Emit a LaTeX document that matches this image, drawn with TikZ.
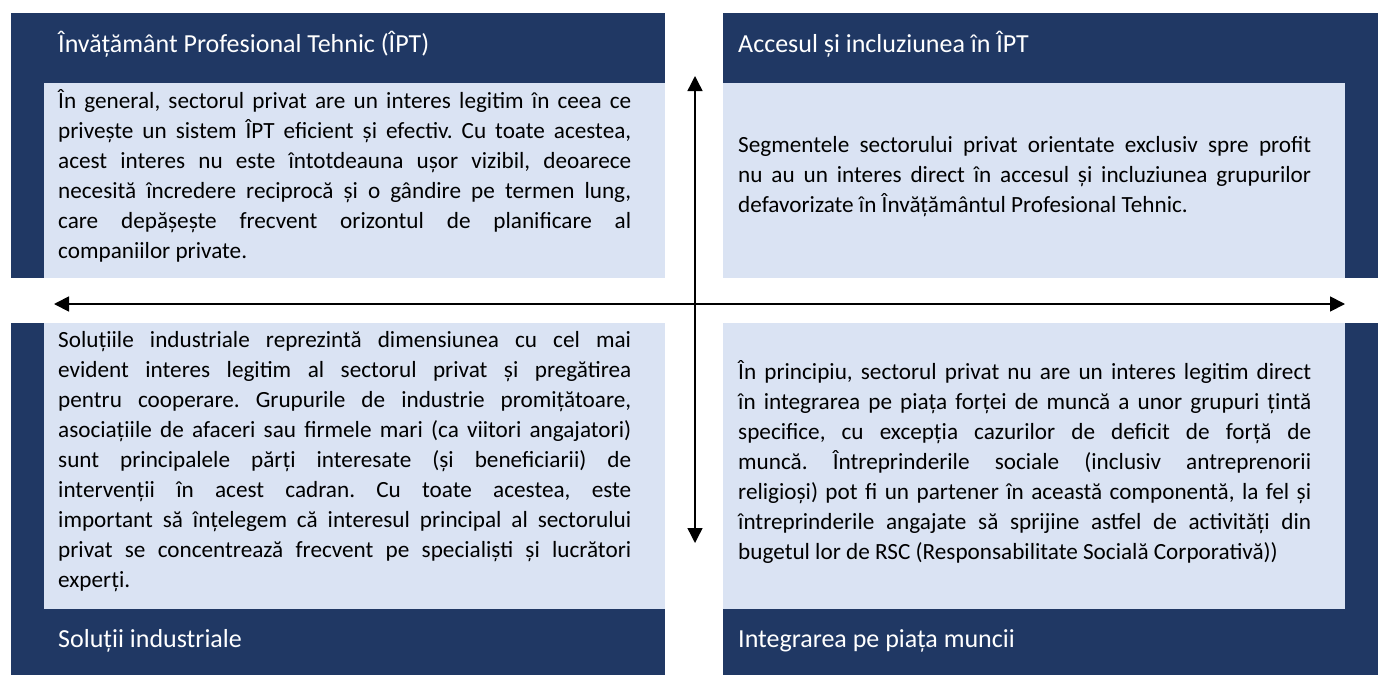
\documentclass[tikz,border=0pt]{standalone}
\usepackage{fontspec}
\setmainfont{Carlito}
\usepackage{tikz}
\usetikzlibrary{arrows.meta,positioning}
\definecolor{navyblue}{HTML}{203864}
\definecolor{paleblue}{HTML}{DAE3F3}
\frenchspacing
\hyphenpenalty=10000
\tolerance=10000

\begin{document}
\begin{tikzpicture}[x=1pt,y=-1pt,
  darkbox/.style={fill=navyblue,inner sep=0pt,anchor=north west},
  lightbox/.style={fill=paleblue,inner sep=0pt,anchor=north west},
  head/.style={text=white,anchor=west,inner sep=0pt,font=\fontsize{26}{30}\selectfont},
  body/.style={anchor=west,inner sep=0pt,text width=573pt,align=justify,font=\fontsize{23.2}{30}\selectfont},
  axis/.style={line width=1.8pt,{Triangle[length=15pt,width=15pt]}-{Triangle[length=15pt,width=15pt]}}]
\useasboundingbox (0,0) rectangle (1378,675);
% quadrant boxes
\node[darkbox,minimum width=654pt,minimum height=265pt] (darkTL) at (11,13) {};
\node[lightbox,minimum width=621pt,minimum height=195pt] (lightTL) at (44,83) {};
\node[darkbox,minimum width=655pt,minimum height=265pt] (darkTR) at (723,13) {};
\node[lightbox,minimum width=622pt,minimum height=195pt] (lightTR) at (723,83) {};
\node[darkbox,minimum width=654pt,minimum height=352pt] (darkBL) at (11,323) {};
\node[lightbox,minimum width=621pt,minimum height=286pt] (lightBL) at (44,323) {};
\node[darkbox,minimum width=655pt,minimum height=352pt] (darkBR) at (723,323) {};
\node[lightbox,minimum width=622pt,minimum height=286pt] (lightBR) at (723,323) {};
% titles
\node[head] (titleTL) at (58,44) {Învățământ Profesional Tehnic (ÎPT)};
\node[head] (titleTR) at (738,44) {Accesul și incluziunea în ÎPT};
\node[head] (titleBL) at (58,641) {Soluții industriale};
\node[head] (titleBR) at (738,641) {Integrarea pe piața muncii};
% texts
\node[body] (textTL) at (58,176) {În general, sectorul privat are un interes legitim în ceea ce\linebreak
privește un sistem ÎPT eficient și efectiv. Cu toate acestea,\linebreak
acest interes nu este întotdeauna ușor vizibil, deoarece\linebreak
necesită încredere reciprocă și o gândire pe termen lung,\linebreak
care depășește frecvent orizontul de planificare al\linebreak
companiilor private.};
\node[body] (textTR) at (738,177) {Segmentele sectorului privat orientate exclusiv spre profit\linebreak
nu au un interes direct în accesul și incluziunea grupurilor\linebreak
defavorizate în Învățământul Profesional Tehnic.};
\node[body] (textBL) at (58,462) {Soluțiile industriale reprezintă dimensiunea cu cel mai\linebreak
evident interes legitim al sectorul privat și pregătirea\linebreak
pentru cooperare. Grupurile de industrie promițătoare,\linebreak
asociațiile de afaceri sau firmele mari (ca viitori angajatori)\linebreak
sunt principalele părți interesate (și beneficiarii) de\linebreak
intervenții în acest cadran. Cu toate acestea, este\linebreak
important să înțelegem că interesul principal al sectorului\linebreak
privat se concentrează frecvent pe specialiști și lucrători\linebreak
experți.};
\node[body] (textBR) at (738,462) {În principiu, sectorul privat nu are un interes legitim direct\linebreak
în integrarea pe piața forței de muncă a unor grupuri țintă\linebreak
specifice, cu excepția cazurilor de deficit de forță de\linebreak
muncă. Întreprinderile sociale (inclusiv antreprenorii\linebreak
religioși) pot fi un partener în această componentă, la fel și\linebreak
întreprinderile angajate să sprijine astfel de activități din\linebreak
bugetul lor de RSC (Responsabilitate Socială Corporativă))};
% axes
\coordinate (up) at (695,76);
\coordinate (down) at (695,543);
\coordinate (west) at (54,304);
\coordinate (east) at (1345,304);
\draw[axis,line width=1.4pt] (down) -- (up);
\draw[axis] (west) -- (east);
\end{tikzpicture}
\end{document}
